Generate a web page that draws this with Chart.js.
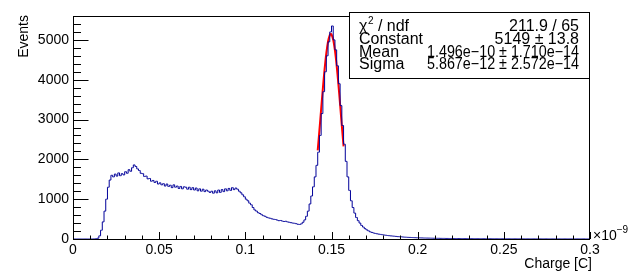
<!DOCTYPE html>
<html>
<head>
<meta charset="utf-8">
<script src="https://cdn.jsdelivr.net/npm/chart.js@4.4.0/dist/chart.umd.min.js"></script>
<style>
  body { margin: 0; background: #fff; }
  canvas { display: block; }
</style>
</head>
<body>
<canvas id="histChart" width="634" height="279"></canvas>
<script>
// histogram: 300 bins of 0.001 (x axis in units of 1e-9 C)
const binWidth = 0.001;
const counts = [
  0, 0, 0, 0, 0, 0, 0, 0, 0, 0,
  0, 0, 2, 6, 20, 80, 220, 430, 700, 1000,
  1300, 1480, 1600, 1560, 1630, 1580, 1660, 1590, 1640, 1610,
  1690, 1650, 1740, 1700, 1790, 1860, 1820, 1760, 1720, 1650,
  1640, 1570, 1580, 1510, 1520, 1450, 1470, 1420, 1450, 1380,
  1410, 1360, 1390, 1330, 1380, 1320, 1350, 1290, 1360, 1300,
  1330, 1270, 1320, 1260, 1310, 1300, 1250, 1300, 1240, 1290,
  1230, 1280, 1210, 1260, 1200, 1250, 1190, 1230, 1200, 1170,
  1200, 1150, 1210, 1160, 1230, 1170, 1240, 1190, 1260, 1210,
  1270, 1220, 1290, 1240, 1280, 1250, 1200, 1160, 1110, 1060,
  1000, 960, 900, 860, 790, 730, 700, 660, 640, 610,
  585, 570, 545, 530, 520, 505, 495, 490, 475, 460,
  465, 450, 440, 445, 430, 420, 410, 400, 395, 385,
  370, 365, 380, 420, 480, 570, 700, 880, 1080, 1310,
  1560, 1850, 2180, 2600, 3150, 3700, 4200, 4600, 4950, 5200,
  5350, 5000, 4750, 4350, 3900, 3350, 2850, 2380, 1950, 1560,
  1220, 960, 790, 650, 540, 460, 400, 340, 300, 260,
  230, 205, 180, 165, 150, 140, 130, 122, 115, 108,
  100, 95, 88, 83, 78, 74, 70, 65, 60, 57,
  55, 50, 47, 44, 41, 40, 37, 35, 33, 31,
  30, 28, 27, 25, 24, 23, 22, 21, 20, 19,
  18, 17, 17, 16, 15, 15, 14, 14, 13, 13,
  12, 12, 11, 11, 10, 10, 10, 9, 9, 9,
  8, 8, 8, 8, 7, 7, 7, 7, 6, 6,
  6, 6, 6, 6, 5, 5, 5, 5, 5, 5,
  5, 5, 4, 4, 4, 4, 4, 4, 4, 4,
  4, 4, 3, 3, 3, 3, 3, 3, 3, 3,
  3, 3, 3, 3, 3, 2, 2, 2, 2, 2,
  2, 2, 2, 2, 2, 2, 2, 2, 2, 2,
  2, 2, 2, 2, 2, 2, 2, 1, 1, 1
];

// gaussian fit curve
const fitX = [0.142, 0.143, 0.144, 0.145, 0.146, 0.147, 0.148, 0.149, 0.1496,
              0.150, 0.151, 0.152, 0.153, 0.154, 0.155, 0.156, 0.157];
const fitY = [2225, 2734, 3265, 3786, 4265, 4668, 4961, 5122, 5149,
              5137, 5004, 4736, 4354, 3887, 3371, 2840, 2324];

const xTicks = [0, 0.05, 0.1, 0.15, 0.2, 0.25, 0.3];
const yTicks = [0, 1000, 2000, 3000, 4000, 5000];

const statNames = ['χ', 'Constant', 'Mean', 'Sigma'];
const statValues = ['211.9 / 65', '5149 ± 13.8', '1.496e−10 ± 1.710e−14', '5.867e−12 ± 2.572e−14'];

const histPoints = counts.map((c, i) => ({ x: (i + 0.5) * binWidth, y: c }));
const fitPoints = fitX.map((v, i) => ({ x: v, y: fitY[i] }));

const FONT = '"Liberation Sans", Arial, sans-serif';

// ROOT style frame, inside ticks, stats box and axis titles
const rootStyle = {
  id: 'rootStyle',
  afterDraw(chart) {
    const { ctx, chartArea: a, scales: { x, y } } = chart;
    ctx.save();
    ctx.strokeStyle = '#000';
    ctx.lineWidth = 1;
    ctx.beginPath();
    for (let k = 0; k <= 28; k++) {
      const py = Math.round(y.getPixelForValue(k * 200)) + 0.5;
      const len = k % 5 === 0 ? 15.5 : 8;
      ctx.moveTo(a.left, py);
      ctx.lineTo(a.left + len, py);
    }
    for (let k = 0; k <= 30; k++) {
      const px = Math.round(x.getPixelForValue(k * 0.01)) + 0.5;
      const len = k % 5 === 0 ? 7 : 3.5;
      ctx.moveTo(px, a.bottom);
      ctx.lineTo(px, a.bottom - len);
    }
    ctx.stroke();
    ctx.strokeRect(a.left + 0.5, a.top + 0.5, a.right - a.left - 1, a.bottom - a.top);

    // stats box
    const bx = 349, by = 12, bw = a.right - bx, bh = 66;
    ctx.fillStyle = '#fff';
    ctx.fillRect(bx, by, bw, bh);
    ctx.strokeRect(bx + 0.5, by + 0.5, bw - 1, bh);
    ctx.fillStyle = '#000';
    ctx.textBaseline = 'alphabetic';
    const base = [30.5, 43.5, 56.5, 69];
    statNames.forEach((n, i) => {
      ctx.textAlign = 'left';
      ctx.font = '16px ' + FONT;
      ctx.fillText(n, 359, base[i]);
      if (i === 0) {
        const w = ctx.measureText(n).width;
        ctx.font = '10px ' + FONT;
        ctx.fillText('2', 359 + w + 0.5, base[i] - 7);
        const w2 = ctx.measureText('2').width;
        ctx.font = '16px ' + FONT;
        ctx.fillText(' / ndf', 359 + w + w2 + 0.5, base[i]);
      }
      ctx.textAlign = 'right';
      if (i >= 2) {
        ctx.fillText(statValues[i], 579, base[i], 152);
      } else {
        ctx.fillText(statValues[i], 579, base[i]);
      }
    });

    // axis titles
    ctx.font = '14px ' + FONT;
    ctx.textAlign = 'right';
    ctx.fillText('Charge [C]', 592, 268);
    ctx.textAlign = 'left';
    ctx.fillText('×10', 593, 240);
    const wx = ctx.measureText('×10').width;
    ctx.font = '10px ' + FONT;
    ctx.fillText('−9', 593 + wx, 233);
    ctx.font = '14px ' + FONT;
    ctx.translate(28, 15);
    ctx.rotate(-Math.PI / 2);
    ctx.textAlign = 'right';
    ctx.fillText('Events', 0, 0);
    ctx.restore();
  }
};

new Chart(document.getElementById('histChart'), {
  type: 'line',
  data: {
    datasets: [
      {
        label: 'hist',
        data: histPoints,
        borderColor: '#000099',
        borderWidth: 1,
        pointRadius: 0,
        stepped: 'middle',
        fill: false
      },
      {
        label: 'fit',
        data: fitPoints,
        borderColor: '#ff0000',
        borderWidth: 2,
        pointRadius: 0,
        tension: 0.3,
        fill: false
      }
    ]
  },
  options: {
    responsive: false,
    animation: false,
    layout: { padding: { left: 0, right: 44, top: 16, bottom: 0 } },
    plugins: { legend: { display: false }, tooltip: { enabled: false } },
    scales: {
      x: {
        type: 'linear',
        min: 0,
        max: 0.3,
        grid: { display: false, drawTicks: false },
        border: { display: false },
        afterFit(s) { s.height = 40; },
        afterBuildTicks(s) { s.ticks = xTicks.map(v => ({ value: v })); },
        ticks: {
          autoSkip: false,
          maxRotation: 0,
          padding: 3,
          color: '#000',
          font: { family: FONT, size: 14 },
          callback: v => String(parseFloat(v.toFixed(3)))
        }
      },
      y: {
        min: 0,
        max: 5600,
        grid: { display: false, drawTicks: false },
        border: { display: false },
        afterFit(s) { s.width = 73; },
        afterBuildTicks(s) { s.ticks = yTicks.map(v => ({ value: v })); },
        ticks: {
          autoSkip: false,
          padding: 4,
          color: '#000',
          font: { family: FONT, size: 14 },
          callback: v => String(v)
        }
      }
    }
  },
  plugins: [rootStyle]
});
</script>
</body>
</html>
